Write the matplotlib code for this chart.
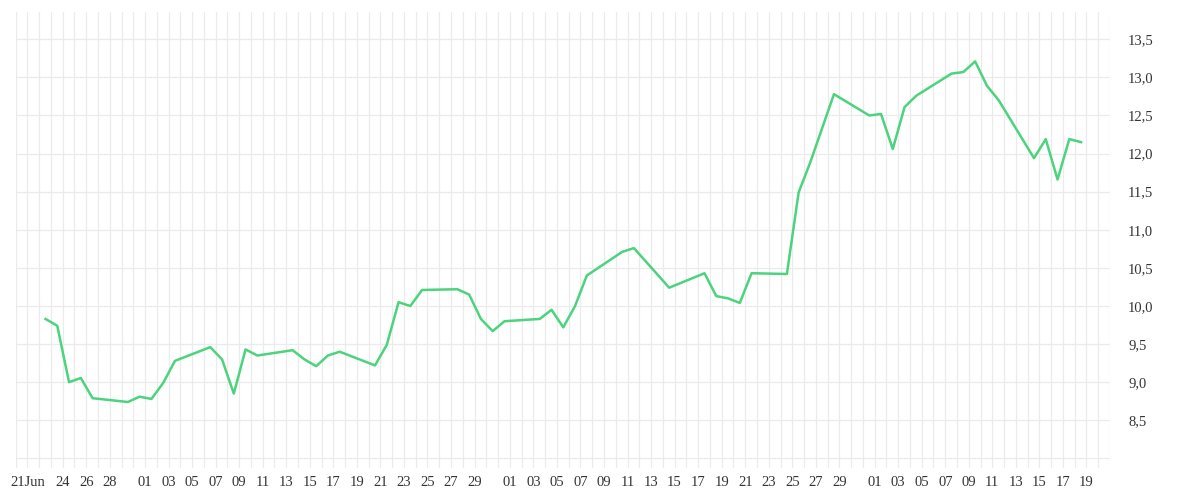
"""
Line chart - daily closing price, Jun to Sep
"""
from datetime import datetime, timedelta

import matplotlib
matplotlib.use("Agg")
import matplotlib.dates as mdates
import matplotlib.pyplot as plt

# trading days (2020) and the value read for each one
days = [
    "2020-06-22", "2020-06-23", "2020-06-24", "2020-06-25", "2020-06-26",
    "2020-06-29", "2020-06-30", "2020-07-01", "2020-07-02", "2020-07-03",
    "2020-07-06", "2020-07-07", "2020-07-08", "2020-07-09", "2020-07-10",
    "2020-07-13", "2020-07-14", "2020-07-15", "2020-07-16", "2020-07-17",
    "2020-07-20", "2020-07-21", "2020-07-22", "2020-07-23", "2020-07-24",
    "2020-07-27", "2020-07-28", "2020-07-29", "2020-07-30", "2020-07-31",
    "2020-08-03", "2020-08-04", "2020-08-05", "2020-08-06", "2020-08-07",
    "2020-08-10", "2020-08-11", "2020-08-14",
    "2020-08-17", "2020-08-18", "2020-08-19", "2020-08-20", "2020-08-21",
    "2020-08-24", "2020-08-25", "2020-08-26", "2020-08-28",
    "2020-08-31", "2020-09-01", "2020-09-02", "2020-09-03", "2020-09-04",
    "2020-09-07", "2020-09-08", "2020-09-09", "2020-09-10", "2020-09-11",
    "2020-09-14", "2020-09-15", "2020-09-16", "2020-09-17", "2020-09-18",
]
values = [
    9.83, 9.74, 9.00, 9.055, 8.79,
    8.74, 8.81, 8.78, 8.99, 9.28,
    9.46, 9.30, 8.85, 9.43, 9.35,
    9.42, 9.30, 9.21, 9.35, 9.40,
    9.22, 9.49, 10.05, 10.00, 10.21,
    10.22, 10.15, 9.83, 9.67, 9.80,
    9.83, 9.95, 9.72, 10.00, 10.40,
    10.71, 10.76, 10.24,
    10.43, 10.13, 10.10, 10.04, 10.43,
    10.42, 11.49, 11.89, 12.78,
    12.50, 12.52, 12.06, 12.61, 12.76,
    13.05, 13.07, 13.21, 12.89, 12.70,
    11.94, 12.19, 11.66, 12.19, 12.15,
]

# x tick dates and their labels
tick_days = (
    ["2020-06-21", "2020-06-24", "2020-06-26", "2020-06-28"]
    + ["2020-07-%02d" % d for d in range(1, 30, 2)]
    + ["2020-08-%02d" % d for d in range(1, 30, 2)]
    + ["2020-09-%02d" % d for d in range(1, 20, 2)]
)
tick_labels = ["21Jun"] + [t[-2:] for t in tick_days[1:]]

y_ticks = [8.0, 8.5, 9.0, 9.5, 10.0, 10.5, 11.0, 11.5, 12.0, 12.5, 13.0, 13.5]


def plot():
    """draw the chart and save it"""
    plt.rcParams["font.family"] = ["Liberation Serif", "DejaVu Serif"]
    fig = plt.figure(figsize=(12, 5), dpi=100)
    axis = fig.add_axes([0.013, 0.064, 0.912, 0.912])

    # points sit a little after midnight of their day
    x = [datetime.strptime(d, "%Y-%m-%d") + timedelta(hours=13) for d in days]
    axis.plot(x, values, color="#4cd37d", linewidth=1.8, solid_joinstyle="round")

    axis.set_xlim(datetime(2020, 6, 20), datetime(2020, 9, 21))
    axis.set_ylim(7.874, 13.858)

    axis.xaxis.set_minor_locator(mdates.DayLocator())
    axis.xaxis.remove_overlapping_locs = False
    axis.set_xticks([datetime.strptime(t, "%Y-%m-%d") for t in tick_days])
    axis.set_xticklabels(tick_labels)
    axis.set_yticks(y_ticks)
    axis.set_yticklabels(
        ["" if v == 8.0 else ("%.1f" % v).replace(".", ",") for v in y_ticks]
    )

    axis.yaxis.tick_right()
    axis.tick_params(axis="both", which="both", length=0, colors="#333333",
                     labelsize=10.5)
    axis.tick_params(axis="x", pad=6)
    axis.tick_params(axis="y", pad=13)

    axis.grid(which="minor", axis="x", color="#ebebeb", linewidth=0.9)
    axis.grid(which="major", axis="y", color="#ebebeb", linewidth=0.9)
    axis.set_axisbelow(True)
    for spine in axis.spines.values():
        spine.set_visible(False)

    fig.savefig("out.png", dpi=100)


if __name__ == "__main__":
    plot()
